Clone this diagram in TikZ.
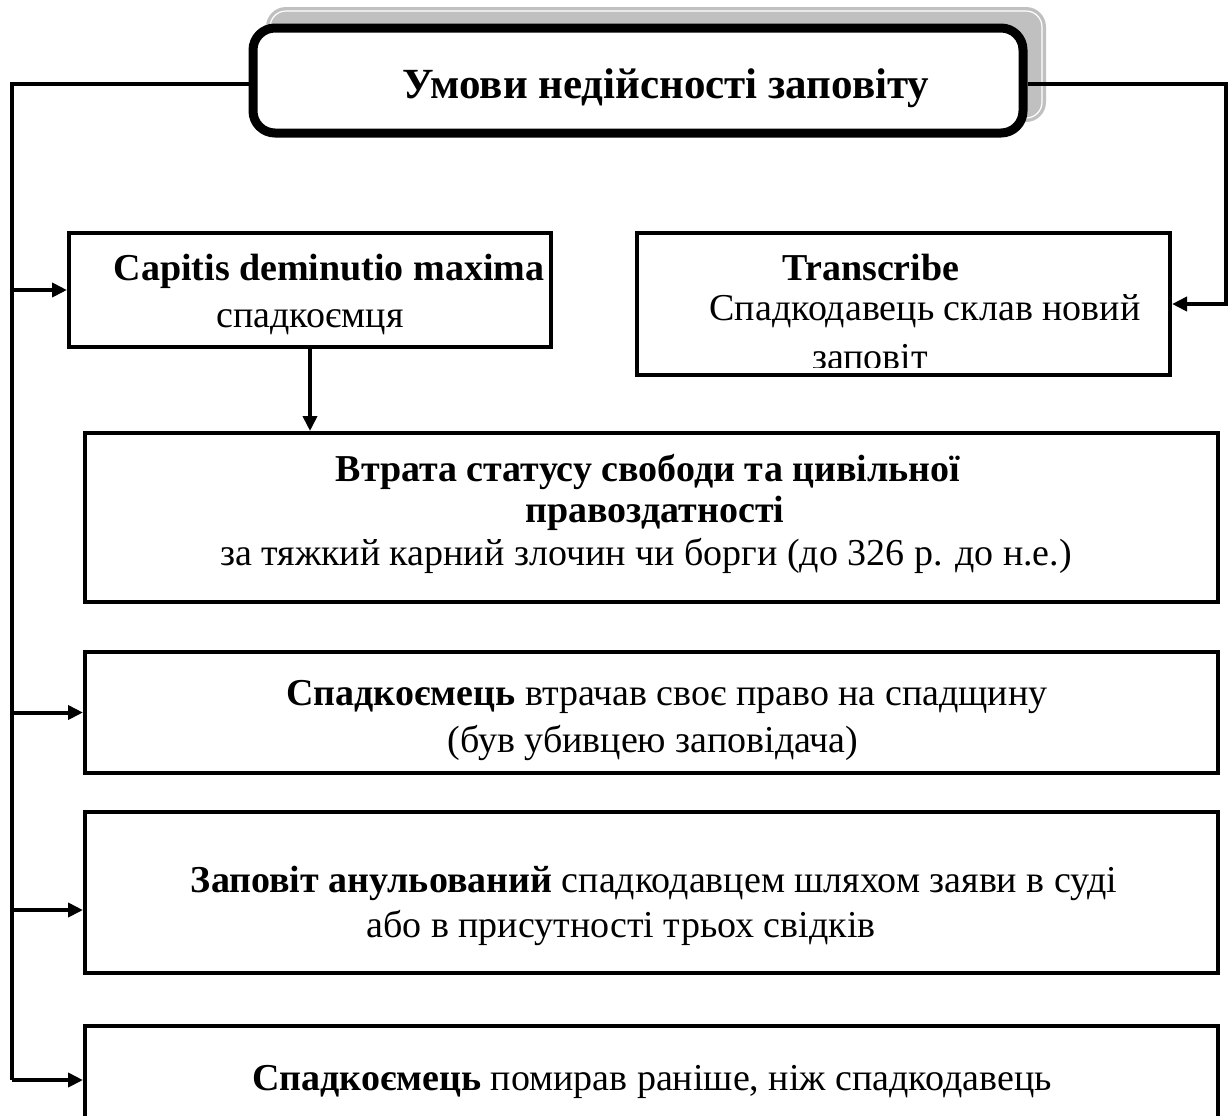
\documentclass[tikz,border=0pt]{standalone}
\usepackage{fontspec}
\setmainfont{Liberation Serif}
\usetikzlibrary{arrows.meta}
\definecolor{shadowgray}{HTML}{C0C0C0}
\begin{document}
\begin{tikzpicture}[x=0.5pt,y=-0.5pt,
  box/.style={draw, line width=2pt, rectangle, inner sep=0pt},
  titlebox/.style={draw, line width=4.5pt, rectangle, rounded corners=11pt, fill=white, inner sep=0pt, minimum width=385pt, minimum height=52.5pt},
  conn/.style={line width=2pt},
  arr/.style={line width=2pt, -{Triangle[length=7.5pt,width=7pt]}},
  txt/.style={font=\fontsize{19}{22}\selectfont, inner sep=0pt, anchor=base},
  btxt/.style={txt, font=\fontsize{19}{22}\selectfont\bfseries},
  ttl/.style={font=\fontsize{21.5}{25}\selectfont\bfseries, inner sep=0pt, anchor=base},
]
\useasboundingbox (0,0) rectangle (1230,1115);
\clip (0,0) rectangle (1230,1115);

% shadow of title
\fill[shadowgray, rounded corners=10pt] (266,7) rectangle (1046,122);
\draw[white, line width=0.6pt, rounded corners=8pt] (270,11) rectangle (1042,118);

% title
\node[titlebox] (title) at (638,80.5) {};
\node[ttl] (ttext) at (666,98) {Умови недійсності заповіту};

% boxes
\node[box, minimum width=241pt, minimum height=57pt] (cap) at (310,290) {};
\node[box, minimum width=266.5pt, minimum height=71pt] (trans) at (903.5,304) {};
\node[box, minimum width=566.5pt, minimum height=84.5pt] (b3) at (651.5,517.5) {};
\node[box, minimum width=566.5pt, minimum height=60.5pt] (b4) at (651.5,712.5) {};
\node[box, minimum width=566.5pt, minimum height=80.5pt] (b5) at (651.5,892.5) {};
\node[box, minimum width=566.5pt, minimum height=87pt] (b6) at (651.5,1113) {};

% texts
\node[btxt] (cap1) at (329,280) {Capitis deminutio maxima};
\node[txt] (cap2) at (310,327) {спадкоємця};
\node[btxt] (tr1) at (871,280) {Transcribe};
\node[txt] (tr2) at (925,320) {Спадкодавець склав новий};
\begin{scope}
\clip (637,233) rectangle (1170,367);
\node[txt] (tr3) at (870,369) {заповіт};
\end{scope}
\node[btxt] (b3a) at (648,481) {Втрата статусу свободи та цивільної};
\node[btxt] (b3b) at (655,522) {правоздатності};
\node[txt] (b3c) at (646,565) {за тяжкий карний злочин чи борги (до 326 р. до н.е.)};
\node[txt] (b4a) at (667,705) {\textbf{Спадкоємець} втрачав своє право на спадщину};
\node[txt] (b4b) at (653,752) {(був убивцею заповідача)};
\node[txt] (b5a) at (654,892) {\textbf{Заповіт анульований} спадкодавцем шляхом заяви в суді};
\node[txt] (b5b) at (621,937) {або в присутності трьох свідків};
\node[txt] (b6a) at (652,1090) {\textbf{Спадкоємець} помирав раніше, ніж спадкодавець};

% connectors
\coordinate (tl) at (12,84);
\coordinate (tb) at (12,1080);
\coordinate (tr) at (1226,84);
\coordinate (b5in) at (12,910);
\draw[conn] (title.west |- tl) -- (tl) -- (tb);
\draw[arr] (tl |- cap.west) -- (cap.west);
\draw[arr] (tl |- b4.west) -- (b4.west);
\draw[arr] (b5in) -- (b5in -| b5.west);
\draw[arr] (tb) -- (tb -| b6.west);
\draw[arr] (title.east |- tr) -- (tr) |- (trans.east);
\draw[arr] (cap.south) -- (cap.south |- b3.north);
\end{tikzpicture}
\end{document}
